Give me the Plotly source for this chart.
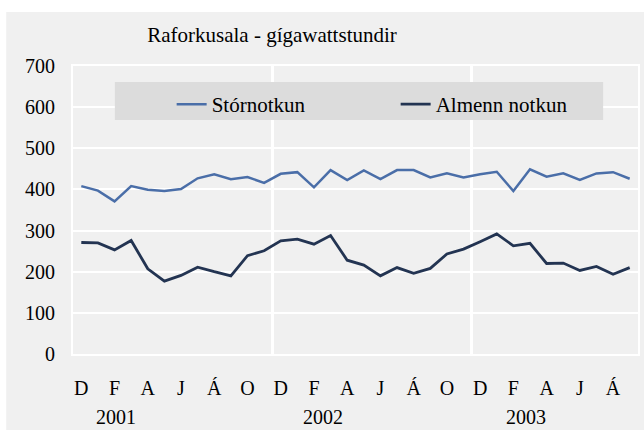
import plotly.graph_objects as go

month_labels = ["D", "F", "A", "J", "Á", "O"]
years = ["2001", "2002", "2003"]
year_label_pos = [2.1, 14.55, 26.75]

stornotkun = [408, 397, 371, 408, 399, 396, 401, 427, 437, 425, 430, 416,
              438, 442, 405, 447, 423, 446, 425, 447, 447, 429, 439, 429,
              437, 443, 396, 449, 431, 439, 423, 439, 442, 426]
almenn = [271, 270, 253, 276, 207, 177, 191, 211, 200, 190, 239, 251,
          275, 279, 267, 288, 228, 216, 190, 210, 196, 208, 243, 255,
          273, 292, 263, 269, 220, 221, 203, 213, 194, 210]

n = len(stornotkun)
xs = list(range(n))
tickvals = list(range(0, n, 2))
ticktext = [month_labels[(i // 2) % 6] for i in tickvals]

W, H = 644, 430
L, R, T, B = 73, 4, 66, 76
pw, ph = W - L - R, H - T - B


def px_x(p):
    return (p - L) / pw


def px_y(p):
    return (H - B - p) / ph


FONT = "Liberation Serif, Times New Roman, serif"

fig = go.Figure()
fig.add_trace(go.Scatter(x=xs, y=stornotkun, mode="lines", name="Stórnotkun",
                         line=dict(color="#4a6ea8", width=2.5)))
fig.add_trace(go.Scatter(x=xs, y=almenn, mode="lines", name="Almenn notkun",
                         line=dict(color="#233452", width=2.8)))

shapes = [
    dict(type="rect", xref="paper", yref="paper", layer="below",
         x0=px_x(6), x1=px_x(660), y0=px_y(440), y1=px_y(12),
         fillcolor="#f0f0f0", line=dict(width=0)),
    dict(type="rect", xref="paper", yref="paper", layer="above",
         x0=px_x(115), x1=px_x(605), y0=px_y(120), y1=px_y(82),
         fillcolor="#dcdcdc", line=dict(width=0)),
]

annotations = [
    dict(x=xp, y=px_y(417), xref="x", yref="paper", text=yr, showarrow=False,
         xanchor="center", yanchor="middle", font=dict(size=20, color="black", family=FONT))
    for xp, yr in zip(year_label_pos, years)
]

fig.update_layout(
    width=W, height=H,
    margin=dict(l=L, r=R, t=T, b=B),
    paper_bgcolor="white",
    plot_bgcolor="#dcdcdc",
    font=dict(family=FONT, color="black", size=20),
    title=dict(text="Raforkusala - gígawattstundir", x=272 / W, xref="container",
               xanchor="center", y=1 - 35 / H, yanchor="middle",
               font=dict(size=21, family=FONT, color="black")),
    showlegend=True,
    legend=dict(orientation="h", x=px_x(172), xanchor="left", y=px_y(84), yanchor="top",
                bgcolor="rgba(0,0,0,0)", font=dict(size=21, family=FONT),
                entrywidth=179, entrywidthmode="pixels"),
    shapes=shapes,
    annotations=annotations,
    xaxis=dict(range=[-0.5, n - 0.5], tickmode="array", tickvals=tickvals, ticktext=ticktext,
               showgrid=False, zeroline=False, ticks="", showline=True, linecolor="white",
               linewidth=2, mirror=True, tickfont=dict(size=20), ticklabelstandoff=15,
               minor=dict(tickmode="array", tickvals=[11.5, 23.5], showgrid=True,
                          gridcolor="white", gridwidth=2.5, ticks="")),
    yaxis=dict(range=[0, 700], tickmode="array", tickvals=list(range(0, 701, 100)),
               showgrid=True, gridcolor="white", gridwidth=2, zeroline=False, ticks="",
               showline=True, linecolor="white", linewidth=2, mirror=True,
               tickfont=dict(size=20), ticklabelstandoff=12),
)

fig.write_html("out.html", config={"displayModeBar": False},
               post_script="document.body.style.margin='0';document.body.style.padding='0';")
